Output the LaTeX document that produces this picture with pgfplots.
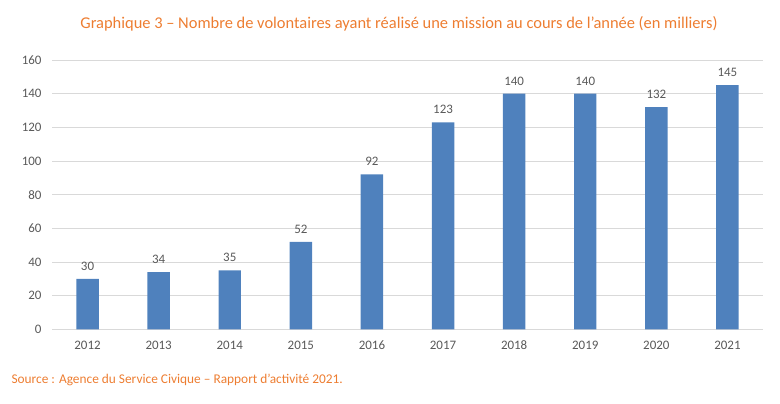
\documentclass[border=0pt]{standalone}
\usepackage{pgfplots}
\pgfplotsset{compat=1.18}
\usepackage{fontspec}
\setmainfont{Carlito}
\definecolor{barblue}{HTML}{4F81BD}
\definecolor{titleorange}{HTML}{ED7D31}
\definecolor{gridgray}{HTML}{D9D9D9}
\definecolor{ticktext}{HTML}{595959}
\begin{document}
\begin{tikzpicture}
\path[use as bounding box] (-52bp,-74.7bp) rectangle (728bp,329.3bp);
\begin{axis}[
  at={(0,0)}, anchor=south west,
  scale only axis,
  width=711bp, height=269.3bp,
  xmin=-0.5, xmax=9.5, ymin=0, ymax=160,
  ytick={0,20,...,160},
  xtick={0,...,9},
  xticklabels={2012,2013,2014,2015,2016,2017,2018,2019,2020,2021},
  axis x line*=bottom,
  axis y line*=left,
  x axis line style={gridgray, line width=0.8pt, -},
  y axis line style={draw=none},
  ymajorgrids,
  grid style={gridgray, line width=0.8pt},
  major tick length=0pt,
  tick style={draw=none},
  ticklabel style={font=\fontsize{13}{15}\selectfont, text=ticktext},
  /pgf/number format/assume math mode=true,
  yticklabel style={xshift=-7bp},
  xticklabel style={anchor=base, yshift=-20bp},
  ybar, bar width=0.316,
  nodes near coords,
  every node near coord/.append style={font=\fontsize{13}{15}\selectfont, text=ticktext, yshift=5bp},
  clip=false,
]
\addplot[fill=barblue, draw=none] coordinates {
(0,30) (1,34) (2,35) (3,52) (4,92) (5,123) (6,140) (7,140) (8,132) (9,145)};
\end{axis}
\node[font=\fontsize{16.5}{19}\selectfont, text=titleorange] at (347bp,305bp) {Graphique 3 – Nombre de volontaires ayant réalisé une mission au cours de l’année (en milliers)};
\node[anchor=west, font=\fontsize{13.4}{15}\selectfont, text=titleorange] at (-44bp,-50.5bp) {Source : Agence du Service Civique – Rapport d’activité 2021.};
\end{tikzpicture}
\end{document}
